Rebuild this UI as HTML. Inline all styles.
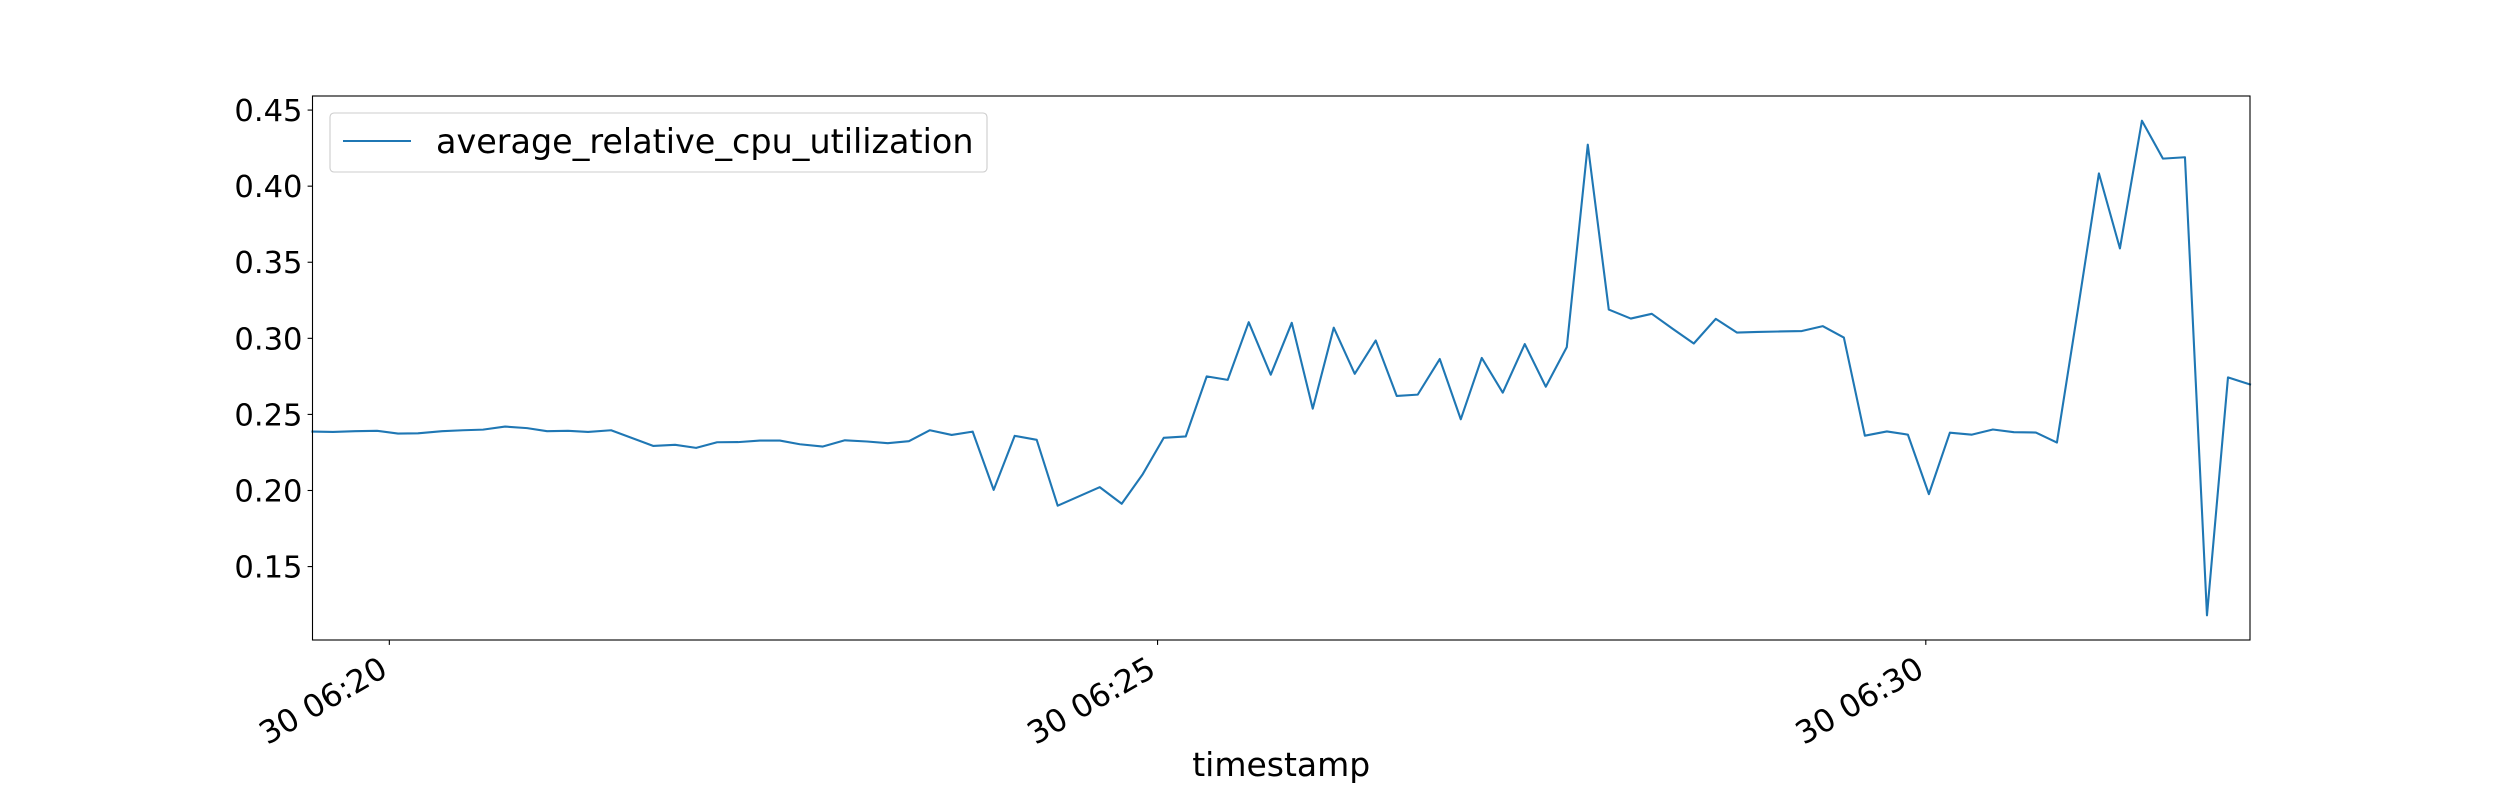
<!DOCTYPE html>
<html>
<head>
<meta charset="utf-8">
<style>
  html,body{margin:0;padding:0;background:#fff;}
  svg{display:block;font-family:"DejaVu Sans","Liberation Sans",sans-serif;}
</style>
</head>
<body>
<svg id="chart" width="2500" height="800" viewBox="0 0 2500 800" xmlns="http://www.w3.org/2000/svg">
  <rect x="0" y="0" width="2500" height="800" fill="#fff"/>
  <g id="plot"></g>
</svg>
<script>
// seconds after 06:19:30
const times = [0,8.0,16.6,25.2,33.4,41.2,50.6,58.8,66.6,75.2,83.8,91.6,99.8,107.6,116.6,133.0,141.6,149.8,158.0,166.2,174.7,182.5,190.3,199.3,207.9,216.5,224.7,232.9,241.1,249.6,257.8,266.0,274.2,282.8,291.0,299.2,307.4,316.0,324.2,332.4,341.0,349.2,357.4,365.6,374.2,382.4,390.6,398.8,407.0,415.2,423.4,431.6,440.2,448.4,456.6,464.8,473.4,481.6,489.8,498.0,506.2,514.8,523.0,531.2,539.4,548.0,556.2,564.4,573.0,581.6,589.8,598.0,606.2,614.8,623.0,631.2,639.4,648.0,656.2,664.4,673.0,681.2,689.4,697.6,705.8,714.4,722.6,731.2,739.8,748.0,756.6];
const cpuValues = [0.2387,0.2385,0.2390,0.2392,0.2374,0.2376,0.2390,0.2396,0.2400,0.2420,0.2410,0.2390,0.2392,0.2385,0.2396,0.2293,0.2300,0.2280,0.2317,0.2318,0.2328,0.2328,0.2304,0.2289,0.2330,0.2322,0.2311,0.2324,0.2396,0.2365,0.2387,0.2004,0.2359,0.2333,0.1900,0.1961,0.2022,0.1913,0.2107,0.2346,0.2355,0.2750,0.2727,0.3106,0.2761,0.3102,0.2538,0.3070,0.2767,0.2986,0.2621,0.2630,0.2864,0.2468,0.2871,0.2643,0.2962,0.2682,0.2942,0.4273,0.3189,0.3130,0.3161,0.3062,0.2966,0.3128,0.3038,0.3042,0.3045,0.3048,0.3080,0.3005,0.2360,0.2388,0.2367,0.1976,0.2380,0.2367,0.2401,0.2383,0.2381,0.2315,0.3190,0.4084,0.3591,0.4430,0.4181,0.4190,0.1180,0.2743,0.2697];
const yTicks = [0.15,0.20,0.25,0.30,0.35,0.40,0.45];
const yTickLabels = ["0.15","0.20","0.25","0.30","0.35","0.40","0.45"];
const xTicks = [30,330,630];
const xTickLabels = ["30 06:20","30 06:25","30 06:30"];
const seriesName = "average_relative_cpu_utilization";

const NS = "http://www.w3.org/2000/svg";
const plot = document.getElementById('plot');
const L = 312.5, R = 2250, T = 96, B = 640;
const tMin = Math.min(...times), tMax = Math.max(...times);
const vMin = Math.min(...cpuValues), vMax = Math.max(...cpuValues);
const pad = (vMax - vMin) * 0.05;
const y0 = vMin - pad, y1 = vMax + pad;
function xScale(t){ return L + (t - tMin) / (tMax - tMin) * (R - L); }
function yScale(v){ return B - (v - y0) / (y1 - y0) * (B - T); }
function mk(tag, attrs){ const e = document.createElementNS(NS, tag); for (const k in attrs) e.setAttribute(k, attrs[k]); return e; }

const pts = times.map((t,i) => xScale(t).toFixed(2) + ',' + yScale(cpuValues[i]).toFixed(2)).join(' ');
const line = mk('polyline', {points: pts, fill: 'none', stroke: '#1f77b4', 'stroke-width': 2.1, 'stroke-linejoin': 'round', 'stroke-linecap': 'square'});


plot.appendChild(line);

const frame = mk('rect', {x: L, y: T, width: R - L, height: B - T, fill: 'none', stroke: '#000', 'stroke-width': 1.1});


plot.appendChild(frame);

yTicks.forEach((v, i) => {
  const y = yScale(v);
  const tk = mk('line', {x1: L - 4.9, x2: L, y1: y, y2: y, stroke: '#000', 'stroke-width': 1.1});
  
  
  plot.appendChild(tk);
  const tx = mk('text', {x: L - 10, y: y + 11, 'text-anchor': 'end', 'font-size': 30.6, fill: '#000'});
  tx.textContent = yTickLabels[i];
  
  
  plot.appendChild(tx);
});

xTicks.forEach((t, i) => {
  const x = xScale(t);
  const tk = mk('line', {x1: x, x2: x, y1: B, y2: B + 4.9, stroke: '#000', 'stroke-width': 1.1});
  
  
  plot.appendChild(tk);
  const ax = x - 12, ty = B + 14;
  const tx = mk('text', {x: ax, y: ty + 24, 'text-anchor': 'end', 'font-size': 31.5, fill: '#000', transform: 'rotate(-30 ' + ax + ' ' + ty + ')'});
  tx.textContent = xTickLabels[i];
  
  
  plot.appendChild(tx);
});

const xt = mk('text', {x: (L + R) / 2, y: 776, 'text-anchor': 'middle', 'font-size': 33, fill: '#000'});
xt.textContent = 'timestamp';


plot.appendChild(xt);

const lg = mk('g', {});


const lbox = mk('rect', {x: 330, y: 113, width: 657, height: 59, rx: 4, fill: '#fff', 'fill-opacity': 0.8, stroke: '#ccc', 'stroke-width': 1.1});


lg.appendChild(lbox);
const lline = mk('line', {x1: 343, x2: 411, y1: 141, y2: 141, stroke: '#1f77b4', 'stroke-width': 2.1});


lg.appendChild(lline);
const ltext = mk('text', {x: 436, y: 153, 'font-size': 33.4, fill: '#000'});
ltext.textContent = seriesName;


lg.appendChild(ltext);
plot.appendChild(lg);
</script>
</body>
</html>
